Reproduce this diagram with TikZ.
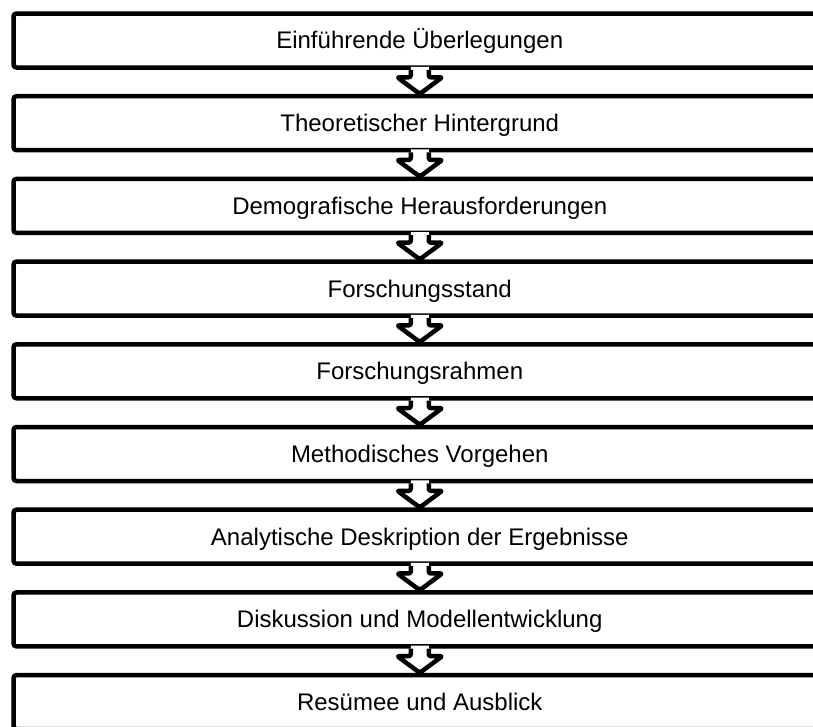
\documentclass[tikz,border=0pt]{standalone}
\usepackage{fontspec}
\setmainfont{Liberation Sans}
\begin{document}
\begin{tikzpicture}[x=1pt,y=-1pt,
  stepbox/.style={draw=black, line width=4.5pt, rounded corners=3pt, fill=white,
    minimum width=812.5pt, minimum height=54pt, inner sep=0pt,
    font=\fontsize{24pt}{28pt}\selectfont, text height=16.8pt, text depth=0pt},
  arrowfill/.style={fill=white},
  arrowline/.style={draw=black, line width=4.5pt, line join=round, rounded corners=2pt}]
\clip (0,0) rectangle (813,726);
\fill[white] (0,0) rectangle (813,726);

% stacked process steps
\foreach \n/\t [count=\i] in {
  b1/{Einführende Überlegungen},
  b2/{Theoretischer Hintergrund},
  b3/{Demografische Herausforderungen},
  b4/{Forschungsstand},
  b5/{Forschungsrahmen},
  b6/{Methodisches Vorgehen},
  b7/{Analytische Deskription der Ergebnisse},
  b8/{Diskussion und Modellentwicklung},
  b9/{Resümee und Ausblick}} {
  \node[stepbox] (\n) at (419.75, {40.5+(\i-1)*82.7}) {\t};
}

% hollow block arrows joining consecutive steps
\foreach \i [evaluate=\i as \j using int(\i+1)] in {1,...,8} {
  \fill[arrowfill] ([xshift=-9pt,yshift=3pt]b\i.south) -- ([xshift=-9pt,yshift=-7.5pt]b\i.south)
    -- ([xshift=-22.5pt,yshift=-7.5pt]b\i.south) -- (b\j.north)
    -- ([xshift=22.5pt,yshift=-7.5pt]b\i.south) -- ([xshift=9pt,yshift=-7.5pt]b\i.south)
    -- ([xshift=9pt,yshift=3pt]b\i.south) -- cycle;
  \draw[arrowline] ([xshift=-9pt]b\i.south) -- ([xshift=-9pt,yshift=-7.5pt]b\i.south)
    -- ([xshift=-22.5pt,yshift=-7.5pt]b\i.south) -- (b\j.north)
    -- ([xshift=22.5pt,yshift=-7.5pt]b\i.south) -- ([xshift=9pt,yshift=-7.5pt]b\i.south)
    -- ([xshift=9pt]b\i.south);
}
\end{tikzpicture}
\end{document}
